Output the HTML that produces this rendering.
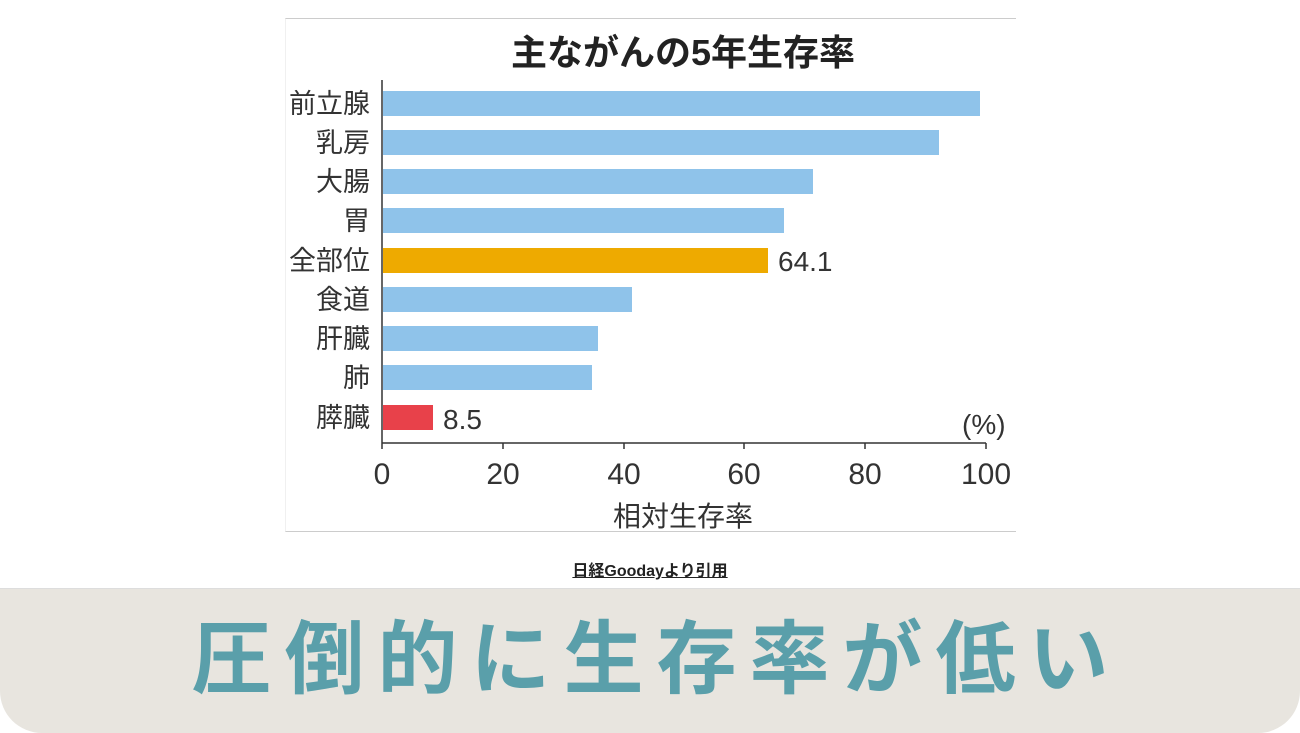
<!DOCTYPE html>
<html><head><meta charset="utf-8"><style>
body{margin:0;width:1300px;height:732px;background:#fff;position:relative;overflow:hidden;font-family:"Liberation Sans","Noto Sans CJK JP",sans-serif}
.t{position:absolute;white-space:nowrap}
</style></head><body>
<div style="position:absolute;left:285px;top:18px;width:730px;height:512px;border-top:1px solid #ccc;border-bottom:1px solid #ccc;border-left:1px solid #f0f0f0"></div>
<svg width="1300" height="732" style="position:absolute;left:0;top:0" font-family="Liberation Sans, Noto Sans CJK JP, sans-serif">
<text x="683" y="65" font-size="36" font-weight="bold" text-anchor="middle" fill="#222">主ながんの5年生存率</text>
<g fill="#8fc3ea">
<rect x="383" y="91" width="597" height="25"/>
<rect x="383" y="130" width="556" height="25"/>
<rect x="383" y="169" width="430" height="25"/>
<rect x="383" y="208" width="401" height="25"/>
<rect x="383" y="287" width="249" height="25"/>
<rect x="383" y="326" width="215" height="25"/>
<rect x="383" y="365" width="209" height="25"/>
</g>
<rect x="383" y="248" width="385" height="25" fill="#eeaa00"/>
<rect x="383" y="405" width="50" height="25" fill="#e8414a"/>
<g font-size="27" fill="#333" text-anchor="end">
<text x="370" y="113">前立腺</text><text x="370" y="152">乳房</text><text x="370" y="191">大腸</text><text x="370" y="230">胃</text><text x="370" y="270">全部位</text><text x="370" y="309">食道</text><text x="370" y="348">肝臓</text><text x="370" y="387">肺</text><text x="370" y="427">膵臓</text>
</g>
<g font-size="28" fill="#333"><text x="778" y="271">64.1</text><text x="443" y="429">8.5</text><text x="962" y="434">(%)</text></g>
<line x1="382" y1="80" x2="382" y2="449" stroke="#333" stroke-width="1.5"/>
<line x1="382" y1="443" x2="986" y2="443" stroke="#333" stroke-width="1.5"/>
<g stroke="#333" stroke-width="1.5"><line x1="503" y1="443" x2="503" y2="449"/><line x1="624" y1="443" x2="624" y2="449"/><line x1="744" y1="443" x2="744" y2="449"/><line x1="865" y1="443" x2="865" y2="449"/><line x1="986" y1="443" x2="986" y2="449"/></g>
<g font-size="30" fill="#333" text-anchor="middle"><text x="382" y="484">0</text><text x="503" y="484">20</text><text x="624" y="484">40</text><text x="744" y="484">60</text><text x="865" y="484">80</text><text x="986" y="484">100</text></g>
<text x="683" y="526" font-size="28" fill="#333" text-anchor="middle">相対生存率</text>
</svg>
<div class="t" style="left:0;width:1300px;top:557px;text-align:center;font-size:16px;font-weight:bold;text-decoration:underline;color:#222">日経Goodayより引用</div>
<div style="position:absolute;left:0;top:588px;width:1300px;height:144px;background:#e8e5df;border-top:1px solid #ddd;border-radius:0 0 42px 42px"></div>
<div class="t" style="left:0;width:1300px;top:608px;text-align:center;font-size:80px;font-weight:bold;color:#5a9faa;letter-spacing:13px;text-indent:13px;line-height:104px">圧倒的に生存率が低い</div>
</body></html>
